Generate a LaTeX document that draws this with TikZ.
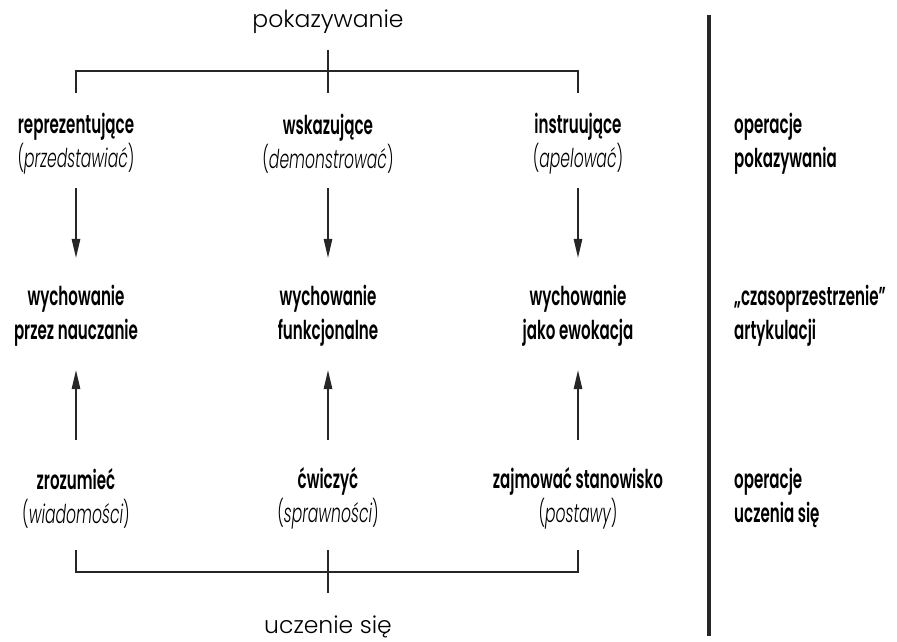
\documentclass[tikz,border=0pt]{standalone}
\usepackage{fontspec}
\usetikzlibrary{arrows.meta}
\newfontfamily\bfam[FakeStretch=0.58]{Poppins SemiBold}
\newfontfamily\ifam[FakeStretch=0.6]{Poppins Light Italic}
\newfontfamily\pfam[FakeStretch=0.6]{Poppins Light}
\newfontfamily\lfam{Poppins Light}
\newcommand{\parit}[1]{{\pfam(}{\ifam #1}{\pfam)}}
\tikzset{
  lbl/.style={font=\bfam\fontsize{26}{34}\selectfont, align=center, inner sep=0pt, minimum height=70pt},
  rlbl/.style={font=\bfam\fontsize{26}{34}\selectfont, align=left, anchor=west, inner sep=0pt},
  ttl/.style={font=\lfam\fontsize{23.5}{26}\selectfont, inner sep=0pt},
  thin/.style={line width=1.4pt, black!85},
  arr/.style={thin, -{Triangle[width=8.5pt,length=19pt]}},
}
\begin{document}
\begin{tikzpicture}[x=1pt,y=-1pt]
\useasboundingbox (0,0) rectangle (897,642);
% titles
\node[ttl] (pok) at (328,22) {pokazywanie};
\node[ttl] (ucz) at (328,627) {uczenie się};
% top row
\node[lbl] (r1) at (76,144) {reprezentujące\\\parit{przedstawiać}};
\node[lbl] (r2) at (328,144) {wskazujące\\\parit{demonstrować}};
\node[lbl] (r3) at (578,144) {instruujące\\\parit{apelować}};
% middle row
\node[lbl] (m1) at (76,316) {wychowanie\\przez nauczanie};
\node[lbl] (m2) at (328,316) {wychowanie\\funkcjonalne};
\node[lbl] (m3) at (578,316) {wychowanie\\jako ewokacja};
% bottom row
\node[lbl] (b1) at (76,498) {zrozumieć\\\parit{wiadomości}};
\node[lbl] (b2) at (328,498) {ćwiczyć\\\parit{sprawności}};
\node[lbl] (b3) at (578,498) {zajmować stanowisko\\\parit{postawy}};
% right labels
\node[rlbl] (o1) at (734,144) {operacje\\pokazywania};
\node[rlbl] (o2) at (734,316) {„czasoprzestrzenie”\\artykulacji};
\node[rlbl] (o3) at (734,498) {operacje\\uczenia się};
% brackets
\coordinate (tc) at (328,50);
\coordinate (tcb) at (328,93);
\coordinate (tl) at (76,93);
\coordinate (tr) at (578,93);
\draw[thin] (tl) |- (328,71) -| (tr);
\draw[thin] (tc) -- (tcb);
\coordinate (bc) at (328,593);
\coordinate (bct) at (328,550);
\coordinate (bl) at (76,550);
\coordinate (br) at (578,550);
\draw[thin] (bl) |- (328,572) -| (br);
\draw[thin] (bct) -- (bc);
% arrows
\foreach \a/\b in {r1/m1,r2/m2,r3/m3}{
  \draw[arr, shorten <=9pt, shorten >=23pt] (\a.south) -- (\b.north);
}
\foreach \a/\b in {b1/m1,b2/m2,b3/m3}{
  \draw[arr, shorten <=23pt, shorten >=19pt] (\a.north) -- (\b.south);
}
% separator
\coordinate (st) at (709,15);
\coordinate (sb) at (709,636);
\draw[line width=4pt, black!85] (st) -- (sb);
\end{tikzpicture}
\end{document}
